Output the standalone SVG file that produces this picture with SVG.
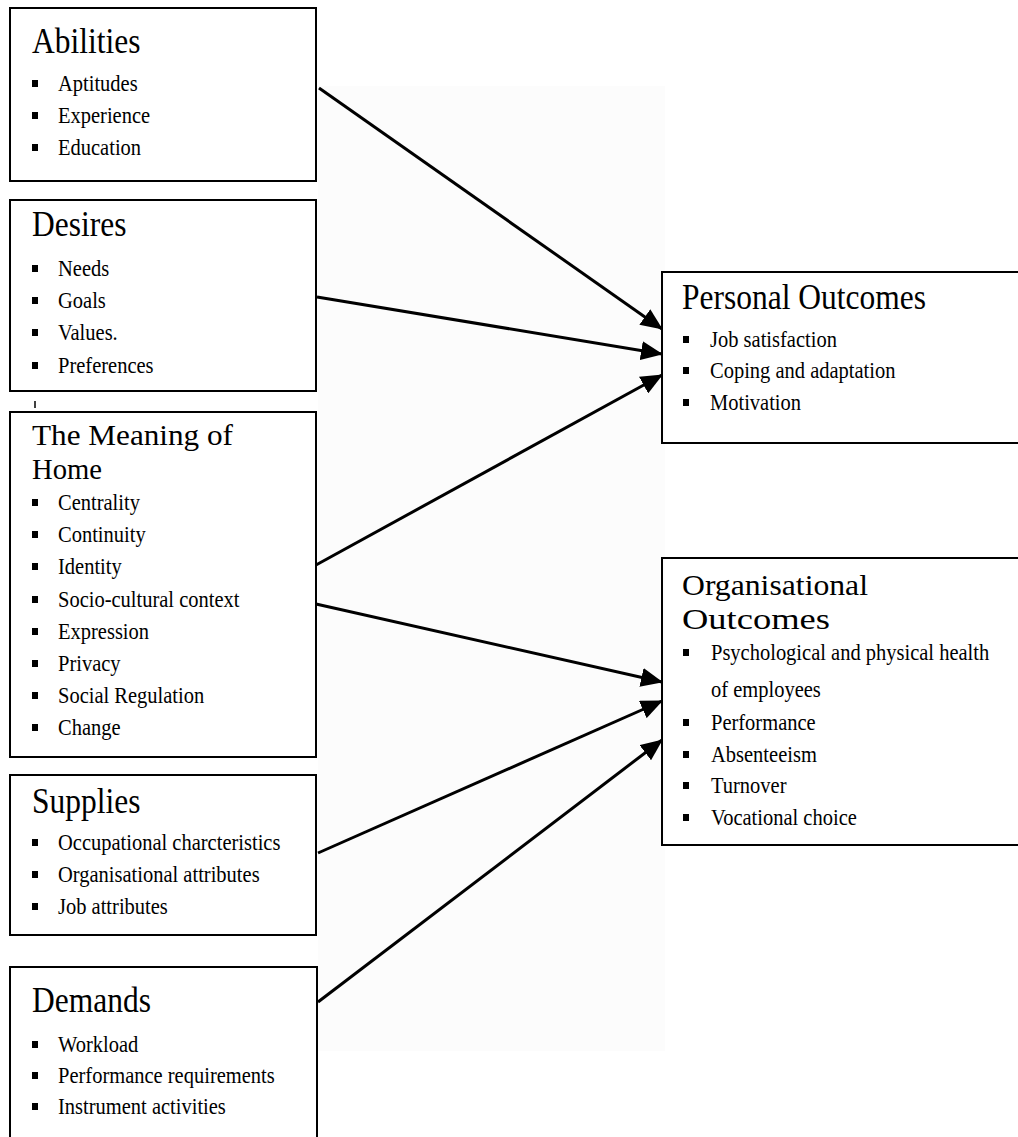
<svg xmlns="http://www.w3.org/2000/svg" width="1018" height="1137" viewBox="0 0 1018 1137">
<style>
.box{fill:none;stroke:#000;stroke-width:2}
.t{font-family:"Liberation Serif","Times New Roman",serif;font-size:31.5px;fill:#000}
.i{font-family:"Liberation Serif","Times New Roman",serif;font-size:20.5px;fill:#000}
.t,.i{transform-box:fill-box;transform-origin:0 80%;transform:scale(1,1.15)}
.t2{font-family:"Liberation Serif","Times New Roman",serif;font-size:28.5px;fill:#000}
.b{fill:#000}
.c{stroke:#000;stroke-width:3;fill:none;marker-end:url(#ah)}
</style>
<defs>
<marker id="ah" markerUnits="userSpaceOnUse" markerWidth="23" markerHeight="19" refX="21" refY="9.5" orient="auto">
<path d="M0,0 L22,9.5 L0,19 Z" fill="#000"/>
</marker>
<rect id="bl" width="6" height="7" class="b"/>
</defs>
<rect width="1018" height="1137" fill="#fff"/>
<rect x="318" y="86" width="347" height="965" fill="#fcfcfc"/>

<g id="abilities">
<rect class="box" x="10" y="8" width="306" height="173"/>
<text class="t" x="32" y="53">Abilities</text>
<use href="#bl" x="32" y="80"/><text class="i" x="58" y="91">Aptitudes</text>
<use href="#bl" x="32" y="112"/><text class="i" x="58" y="123">Experience</text>
<use href="#bl" x="32" y="144"/><text class="i" x="58" y="155">Education</text>
</g>

<g id="desires">
<rect class="box" x="10" y="200" width="306" height="191"/>
<text class="t" x="32" y="236">Desires</text>
<use href="#bl" x="32" y="265"/><text class="i" x="58" y="276">Needs</text>
<use href="#bl" x="32" y="297"/><text class="i" x="58" y="308">Goals</text>
<use href="#bl" x="32" y="329"/><text class="i" x="58" y="340">Values.</text>
<use href="#bl" x="32" y="362"/><text class="i" x="58" y="373">Preferences</text>
</g>

<line x1="35" y1="401" x2="35" y2="408" stroke="#000" stroke-width="1.5"/>

<g id="meaning">
<rect class="box" x="10" y="412" width="306" height="345"/>
<text class="t2" x="32" y="445" textLength="201" lengthAdjust="spacingAndGlyphs">The Meaning of</text>
<text class="t2" x="32" y="479" textLength="70" lengthAdjust="spacingAndGlyphs">Home</text>
<use href="#bl" x="32" y="499"/><text class="i" x="58" y="510">Centrality</text>
<use href="#bl" x="32" y="531"/><text class="i" x="58" y="542">Continuity</text>
<use href="#bl" x="32" y="563"/><text class="i" x="58" y="574">Identity</text>
<use href="#bl" x="32" y="596"/><text class="i" x="58" y="607">Socio-cultural context</text>
<use href="#bl" x="32" y="628"/><text class="i" x="58" y="639">Expression</text>
<use href="#bl" x="32" y="660"/><text class="i" x="58" y="671">Privacy</text>
<use href="#bl" x="32" y="692"/><text class="i" x="58" y="703">Social Regulation</text>
<use href="#bl" x="32" y="724"/><text class="i" x="58" y="735">Change</text>
</g>

<g id="supplies">
<rect class="box" x="10" y="775" width="306" height="160"/>
<text class="t" x="32" y="813">Supplies</text>
<use href="#bl" x="32" y="839"/><text class="i" x="58" y="850">Occupational charcteristics</text>
<use href="#bl" x="32" y="871"/><text class="i" x="58" y="882">Organisational attributes</text>
<use href="#bl" x="32" y="903"/><text class="i" x="58" y="914">Job attributes</text>
</g>

<g id="demands">
<rect class="box" x="10" y="967" width="307" height="200"/>
<text class="t" x="32" y="1012">Demands</text>
<use href="#bl" x="32" y="1041"/><text class="i" x="58" y="1052">Workload</text>
<use href="#bl" x="32" y="1072"/><text class="i" x="58" y="1083">Performance requirements</text>
<use href="#bl" x="32" y="1103"/><text class="i" x="58" y="1114">Instrument activities</text>
</g>

<g id="personal">
<path class="box" d="M1030,272 H662 V443 H1030"/>
<text class="t" x="682" y="309">Personal Outcomes</text>
<use href="#bl" x="683" y="336"/><text class="i" x="710" y="347">Job satisfaction</text>
<use href="#bl" x="683" y="367"/><text class="i" x="710" y="378">Coping and adaptation</text>
<use href="#bl" x="683" y="399"/><text class="i" x="710" y="410">Motivation</text>
</g>

<g id="organisational">
<path class="box" d="M1030,558 H662 V845 H1030"/>
<text class="t2" x="682" y="595" textLength="186" lengthAdjust="spacingAndGlyphs">Organisational</text>
<text class="t2" x="682" y="629" textLength="148" lengthAdjust="spacingAndGlyphs">Outcomes</text>
<use href="#bl" x="683" y="649"/><text class="i" x="711" y="660">Psychological and physical health</text>
<text class="i" x="711" y="697">of employees</text>
<use href="#bl" x="683" y="719"/><text class="i" x="711" y="730">Performance</text>
<use href="#bl" x="683" y="751"/><text class="i" x="711" y="762">Absenteeism</text>
<use href="#bl" x="683" y="782"/><text class="i" x="711" y="793">Turnover</text>
<use href="#bl" x="683" y="814"/><text class="i" x="711" y="825">Vocational choice</text>
</g>

<g id="connectors">
<line class="c" x1="319" y1="88" x2="662" y2="329"/>
<line class="c" x1="317" y1="297" x2="662" y2="354"/>
<line class="c" x1="316" y1="565" x2="662" y2="375"/>
<line class="c" x1="316" y1="604" x2="662" y2="682"/>
<line class="c" x1="318" y1="853" x2="662" y2="701"/>
<line class="c" x1="318" y1="1002" x2="662" y2="740"/>
</g>
</svg>
